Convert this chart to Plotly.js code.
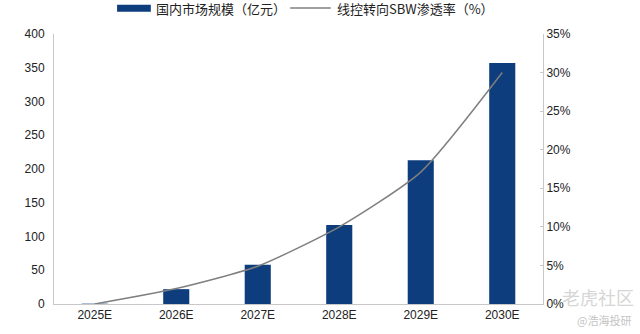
<!DOCTYPE html>
<html><head><meta charset="utf-8">
<script src="https://cdn.plot.ly/plotly-3.0.1.min.js"></script>
<style>html,body{margin:0;padding:0;background:#fff}#c{width:640px;height:334px}</style>
</head><body><div id="c"></div>
<script>
const categories = ['2025E','2026E','2027E','2028E','2029E','2030E'];
const marketSize = [0.5, 22, 58, 117, 213, 357];
const sbwPenetration = [0, 2.0, 4.9, 10.0, 17.1, 30.0];
const leftTicks = [0,50,100,150,200,250,300,350,400];
const rightTicks = [0,5,10,15,20,25,30,35];
const rightTickText = rightTicks.map(v => v + '%');
const seriesNames = ['国内市场规模（亿元）', '线控转向SBW渗透率（%）'];

const barColor = '#0d3d7c', lineColor = '#7f7f7f';
const data = [
  {type:'bar', x:categories, y:marketSize, name:seriesNames[0],
   marker:{color:barColor}, width:0.32, yaxis:'y'},
  {type:'scatter', mode:'lines', x:categories, y:sbwPenetration, name:seriesNames[1],
   line:{color:lineColor, width:1.5, shape:'spline', smoothing:0.6}, yaxis:'y2'}
];
const tickFont = {family:'Liberation Sans, Arial, sans-serif', size:12, color:'#222'};
const cjk = 'Noto Sans CJK SC, sans-serif';
const layout = {
  width:640, height:334,
  margin:{l:54, r:97, t:34, b:30},
  paper_bgcolor:'#ffffff', plot_bgcolor:'#ffffff',
  showlegend:false,
  xaxis:{type:'category', tickfont:tickFont, showline:true, linecolor:'#c8c8c8', linewidth:1,
    ticks:'', showgrid:false, zeroline:false},
  yaxis:{range:[0,400], tickvals:leftTicks, tickfont:tickFont, showline:true, linecolor:'#c8c8c8',
    showgrid:false, zeroline:false, ticks:'', ticklabelstandoff:6},
  yaxis2:{range:[0,35], overlaying:'y', side:'right', tickvals:rightTicks, ticktext:rightTickText,
    tickfont:tickFont, showline:true, linecolor:'#c8c8c8', showgrid:false, zeroline:false,
    ticks:'inside', ticklen:3, tickcolor:'#c8c8c8'},
  shapes:[
    {type:'rect', xref:'paper', yref:'paper', x0:0.129, x1:0.198, y0:1.082, y1:1.108,
     fillcolor:barColor, line:{width:0}},
    {type:'line', xref:'paper', yref:'paper', x0:0.483, x1:0.566, y0:1.096, y1:1.096,
     line:{color:lineColor, width:1.5}}
  ],
  annotations:[
    {xref:'paper', yref:'paper', x:0.205, y:1.096, xanchor:'left', yanchor:'middle', text:seriesNames[0],
     showarrow:false, font:{family:cjk, size:13, color:'#222'}},
    {xref:'paper', yref:'paper', x:0.575, y:1.096, xanchor:'left', yanchor:'middle', text:seriesNames[1],
     showarrow:false, font:{family:cjk, size:13, color:'#222'}},
    {xref:'paper', yref:'paper', x:1.112, y:0.026, xanchor:'center', yanchor:'middle', text:'老虎社区',
     showarrow:false, font:{family:cjk, size:18, color:'#d6d6d6'}},
    {xref:'paper', yref:'paper', x:1.125, y:-0.06, xanchor:'center', yanchor:'middle', text:'@浩海投研',
     showarrow:false, font:{family:cjk, size:11, color:'#c4c4c4'}}
  ]
};
Plotly.newPlot('c', data, layout, {displayModeBar:false, staticPlot:true});
</script></body></html>
